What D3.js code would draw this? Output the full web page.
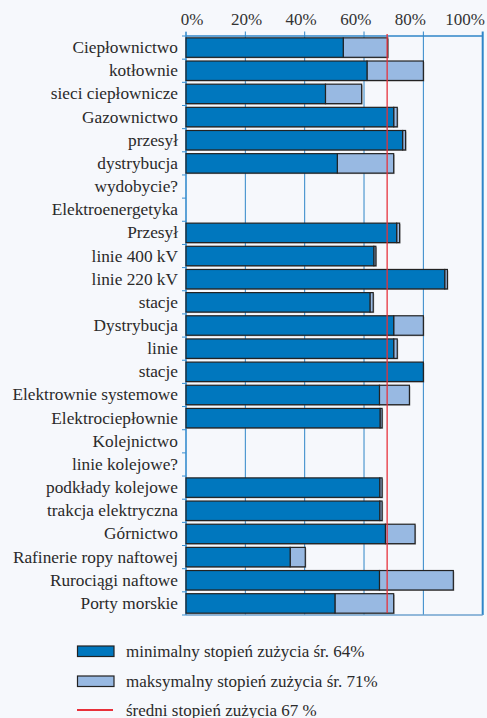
<!DOCTYPE html>
<html><head><meta charset="utf-8">
<script src="https://cdn.jsdelivr.net/npm/d3@7/dist/d3.min.js"></script>
<style>
text{font-family:"Liberation Serif","Times New Roman",serif;}
</style>
</head>
<body style="margin:0;background:#f6f8fc">
<svg id="chart" width="487" height="718" style="display:block"></svg>
<script>
const categories = ["Ciepłownictwo","kotłownie","sieci ciepłownicze","Gazownictwo","przesył","dystrybucja","wydobycie?","Elektroenergetyka","Przesył","linie 400 kV","linie 220 kV","stacje","Dystrybucja","linie","stacje","Elektrownie systemowe","Elektrociepłownie","Kolejnictwo","linie kolejowe?","podkłady kolejowe","trakcja elektryczna","Górnictwo","Rafinerie ropy naftowej","Rurociągi naftowe","Porty morskie"];
const minValues = [53, 61, 47, 70, 73, 51, null, null, 71, 63.3, 87.2, 62, 70, 70, 80, 65.2, 65.4, null, null, 65.3, 65.3, 67.2, 35.1, 65.2, 50.2];
const maxValues = [68, 80, 59.2, 71.2, 74, 70, null, null, 72, 64, 88.1, 63.1, 80, 71.2, 80, 75.3, 66.1, null, null, 66.1, 66.1, 77.2, 40.2, 90.1, 70];
const tickValues = [0, 20, 40, 60, 80, 100];
const tickLabels = ["0%", "20%", "40%", "60%", "80%", "100%"];
const averageValue = 67.8;
const legendLabels = ["minimalny stopień zużycia śr. 64%", "maksymalny stopień zużycia śr. 71%", "średni stopień zużycia 67 %"];

const colMin = "#0077be", colMax = "#98b9e2", colAvg = "#e8303a", colGrid = "#2f86c8";
const svg = d3.select("#chart");
const x = d3.scaleLinear().domain([0, 100]).range([186, 482.7]);
const xLabel = d3.scaleLinear().domain([0, 100]).range([192, 465]);
const y = d3.scaleBand().domain(d3.range(categories.length)).range([36, 615]).paddingInner(0.16).paddingOuter(0.08);
const step = y.step();
const y0 = 36;

svg.append("g").selectAll("line").data(tickValues).join("line")
  .attr("x1", d => x(d)).attr("x2", d => x(d))
  .attr("y1", 31.5).attr("y2", 615)
  .attr("stroke", colGrid).attr("stroke-width", d => d === 100 ? 2 : 1);
svg.append("line").attr("x1", x(0)).attr("x2", x(100)).attr("y1", 36).attr("y2", 36)
  .attr("stroke", colGrid).attr("stroke-width", 1.3);
svg.append("line").attr("x1", x(0)).attr("x2", x(100)).attr("y1", 615).attr("y2", 615)
  .attr("stroke", "#6fa3cf").attr("stroke-width", 1.5);
svg.append("line").attr("x1", x(0)).attr("x2", x(0)).attr("y1", 32).attr("y2", 615)
  .attr("stroke", "#3a8fd0").attr("stroke-width", 1.2);
svg.append("g").selectAll("line").data(d3.range(categories.length + 1)).join("line")
  .attr("x1", x(0) - 4).attr("x2", x(0))
  .attr("y1", i => y0 + i * step).attr("y2", i => y0 + i * step)
  .attr("stroke", "#3a8fd0").attr("stroke-width", 1);

svg.append("g").selectAll("text").data(tickValues).join("text")
  .attr("x", d => xLabel(d)).attr("y", 25)
  .attr("text-anchor", "middle").attr("font-size", 17).attr("fill", "#333")
  .text((d, i) => tickLabels[i]);

svg.append("g").selectAll("text").data(categories).join("text")
  .attr("x", 178).attr("y", (d, i) => y(i) + y.bandwidth() / 2 + 5.5)
  .attr("text-anchor", "end").attr("font-size", 17.3).attr("fill", "#2a2a2a")
  .text(d => d);

const rows = categories.map((c, i) => ({i, mn: minValues[i], mx: maxValues[i]})).filter(d => d.mn != null);
const gb = svg.append("g");
gb.selectAll("rect.sh").data(rows).join("rect").attr("class", "sh")
  .attr("x", x(0) + 1).attr("y", d => y(d.i) + 1)
  .attr("width", d => x(Math.max(d.mn, d.mx)) - x(0)).attr("height", y.bandwidth())
  .attr("fill", "rgba(70,70,70,0.45)");
gb.selectAll("rect.mx").data(rows.filter(d => d.mx > d.mn)).join("rect").attr("class", "mx")
  .attr("x", d => x(d.mn)).attr("y", d => y(d.i))
  .attr("width", d => x(d.mx) - x(d.mn)).attr("height", y.bandwidth())
  .attr("fill", colMax).attr("stroke", "#222").attr("stroke-width", 1.2);
gb.selectAll("rect.mn").data(rows).join("rect").attr("class", "mn")
  .attr("x", x(0)).attr("y", d => y(d.i))
  .attr("width", d => x(d.mn) - x(0)).attr("height", y.bandwidth())
  .attr("fill", colMin).attr("stroke", "#222").attr("stroke-width", 1.2);

svg.append("line").attr("x1", x(averageValue)).attr("x2", x(averageValue))
  .attr("y1", 34).attr("y2", 613)
  .attr("stroke", colAvg).attr("stroke-width", 1.5).attr("opacity", 0.85);

const lg = svg.append("g");
lg.append("rect").attr("x", 77.5).attr("y", 646).attr("width", 36.5).attr("height", 10.5)
  .attr("fill", colMin).attr("stroke", "#222").attr("stroke-width", 1.2);
lg.append("rect").attr("x", 77.5).attr("y", 676).attr("width", 36.5).attr("height", 10.5)
  .attr("fill", colMax).attr("stroke", "#222").attr("stroke-width", 1.2);
lg.append("line").attr("x1", 77).attr("x2", 113).attr("y1", 710).attr("y2", 710)
  .attr("stroke", colAvg).attr("stroke-width", 2);
lg.selectAll("text").data(legendLabels).join("text")
  .attr("x", 126).attr("y", (d, i) => [656.5, 686.5, 715.5][i])
  .attr("font-size", 17).attr("fill", "#2a2a2a")
  .text(d => d);
</script>
</body></html>
